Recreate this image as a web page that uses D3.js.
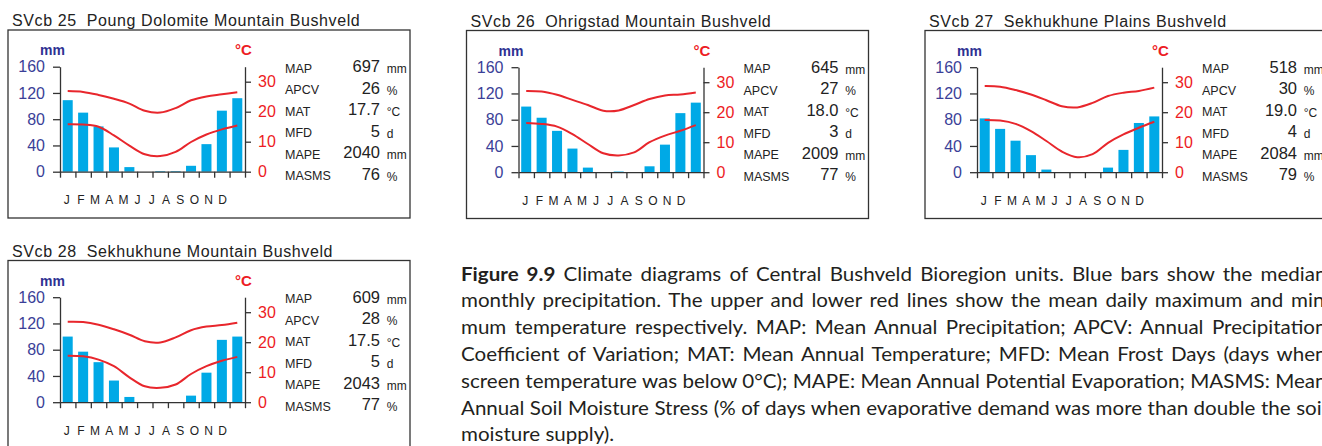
<!DOCTYPE html>
<html><head><meta charset="utf-8">
<script src="https://cdn.jsdelivr.net/npm/d3@7"></script>
<style>
html,body{margin:0;padding:0;background:#fff;overflow:hidden;}
svg{display:block;}
</style></head><body>
<svg id="chart" width="1322" height="446"></svg>
<script>
// ---------- DATA ----------
const months = ["J","F","M","A","M","J","J","A","S","O","N","D"];
const leftTicks = [0, 40, 80, 120, 160];
const rightTicks = [0, 10, 20, 30];
const statLabels = ["MAP","APCV","MAT","MFD","MAPE","MASMS"];
const statUnits = ["mm","%","°C","d","mm","%"];

const titles = [
  "SVcb 25  Poung Dolomite Mountain Bushveld",
  "SVcb 26  Ohrigstad Mountain Bushveld",
  "SVcb 27  Sekhukhune Plains Bushveld",
  "SVcb 28  Sekhukhune Mountain Bushveld"
];

const precip25 = [109, 90, 69, 37, 7, 0, 1, 1, 9, 42, 93, 112];
const precip26 = [100, 83, 63, 36, 7, 0, 1, 0, 9, 42, 90, 106];
const precip27 = [82, 66, 48, 26, 4, 0, 0, 0, 7, 34, 75, 85];
const precip28 = [100, 77, 61, 33, 8, 0, 0, 0, 10, 45, 95, 100];

const tmax25 = [26.9, 26.6, 25.6, 24.3, 22.7, 20.3, 19.7, 21.2, 23.8, 25.1, 25.8, 26.5];
const tmin25 = [15.8, 15.7, 15.0, 12.1, 8.7, 5.8, 5.2, 6.6, 9.9, 12.4, 14.1, 15.4];
const tmax26 = [27.1, 26.9, 25.8, 24.1, 22.4, 20.5, 20.6, 22.4, 24.4, 25.6, 25.9, 26.6];
const tmin26 = [16.4, 16.1, 15.2, 12.7, 9.4, 6.3, 5.6, 6.6, 10.0, 12.2, 13.8, 15.7];
const tmax27 = [28.7, 28.5, 27.4, 25.9, 24.0, 22.0, 21.6, 23.1, 25.4, 26.5, 27.1, 28.2];
const tmin27 = [17.4, 17.2, 16.1, 13.7, 10.4, 6.9, 5.0, 6.0, 9.8, 12.6, 14.8, 16.8];
const tmax28 = [26.8, 26.7, 25.8, 24.3, 22.5, 20.3, 19.9, 21.6, 24.0, 25.2, 25.7, 26.5];
const tmin28 = [15.5, 15.3, 14.2, 12.0, 8.3, 5.3, 4.8, 5.9, 9.4, 12.0, 13.8, 15.1];

const stats25 = ["697","26","17.7","5","2040","76"];
const stats26 = ["645","27","18.0","3","2009","77"];
const stats27 = ["518","30","19.0","4","2084","79"];
const stats28 = ["609","28","17.5","5","2043","77"];

const captionBold = "Figure 9.9";
const captionLines = [
  " Climate diagrams of Central Bushveld Bioregion units. Blue bars show the median",
  "monthly precipitation. The upper and lower red lines show the mean daily maximum and mini-",
  "mum temperature respectively. MAP: Mean Annual Precipitation; APCV: Annual Precipitation",
  "Coefficient of Variation; MAT: Mean Annual Temperature; MFD: Mean Frost Days (days when",
  "screen temperature was below 0°C); MAPE: Mean Annual Potential Evaporation; MASMS: Mean",
  "Annual Soil Moisture Stress (% of days when evaporative demand was more than double the soil",
  "moisture supply)."
];

// ---------- DRAW ----------
const svg = d3.select("#chart");
svg.append("rect").attr("width",1322).attr("height",446).attr("fill","#fff");
const FONT = "'Liberation Sans', Arial, Helvetica, sans-serif";
const BLUE_TXT = "#3b3f98", BLUE_T = "#2e3192", RED = "#ed1c24", LINE_RED = "#e8262c", BAR = "#00a9e6", AX = "#333";

function drawPanel(bx, by, title, precip, tmax, tmin, stats) {
  const g = svg.append("g").style("font-family", FONT);
  g.append("rect").attr("x",bx).attr("y",by).attr("width",402).attr("height",188)
    .attr("fill","none").attr("stroke",AX).attr("stroke-width",1.3);
  g.append("text").attr("x",bx+4).attr("y",by-4).attr("font-size",16)
    .attr("letter-spacing",0.6).attr("fill","#222").style("white-space","pre").text(title);

  const x0 = bx+52, x1 = bx+237, yTop = by+36.7, yZero = by+141.7;
  const xb = d3.scaleBand().domain(d3.range(12)).range([x0,x1]).paddingInner(0.35).paddingOuter(0.175);
  const xl = d3.scaleLinear().domain([0,12]).range([x0,x1]);
  const xp = d3.scalePoint().domain(d3.range(12)).range([x0+6.7, x0+162.7]);
  const yP = d3.scaleLinear().domain([0,160]).range([yZero,yTop]);
  const yT = d3.scaleLinear().domain([0,35]).range([yZero,yTop]);

  g.append("g").selectAll("rect").data(precip).join("rect")
    .attr("x",(d,i)=>xb(i)).attr("width",xb.bandwidth())
    .attr("y",d=>yP(d)).attr("height",d=>yZero-yP(d)).attr("fill",BAR);

  const la = g.append("g").attr("transform",`translate(${x0},0)`)
    .call(d3.axisLeft(yP).tickValues(leftTicks).tickSize(7).tickSizeOuter(0).tickPadding(8));
  la.attr("color",AX).attr("font-family",FONT).attr("font-size",16);
  la.selectAll("path,line").attr("stroke-width",1.3);
  la.selectAll("text").attr("fill",BLUE_TXT);

  const ra = g.append("g").attr("transform",`translate(${x1},0)`)
    .call(d3.axisRight(yT).tickValues(rightTicks).tickSize(6).tickSizeOuter(0).tickPadding(7));
  ra.attr("color",AX).attr("font-family",FONT).attr("font-size",16);
  ra.selectAll("path,line").attr("stroke-width",1.3);
  ra.selectAll("text").attr("fill",RED);

  const ba = g.append("g").attr("transform",`translate(0,${yZero})`)
    .call(d3.axisBottom(xl).tickValues(d3.range(13)).tickFormat("").tickSize(6).tickSizeOuter(0));
  ba.attr("color",AX);
  ba.selectAll("path,line").attr("stroke-width",1.3);

  const line = d3.line().x((d,i)=>xb(i)+xb.bandwidth()/2).y(d=>yT(d)).curve(d3.curveCatmullRom.alpha(0.5));
  g.append("path").datum(tmax).attr("d",line).attr("fill","none").attr("stroke",LINE_RED).attr("stroke-width",2);
  g.append("path").datum(tmin).attr("d",line).attr("fill","none").attr("stroke",LINE_RED).attr("stroke-width",2);

  g.append("text").attr("x",bx+32).attr("y",by+25).attr("font-size",14).attr("font-weight","bold")
    .attr("fill",BLUE_T).text("mm");
  g.append("text").attr("x",bx+227).attr("y",by+25).attr("font-size",15).attr("font-weight","bold")
    .attr("fill",RED).text("°C");

  g.append("g").selectAll("text").data(months).join("text")
    .attr("x",(d,i)=>xp(i)).attr("y",by+174.3).attr("text-anchor","middle")
    .attr("font-size",12).attr("fill","#222").text(d=>d);

  const sg = g.append("g");
  statLabels.forEach((lab,i)=>{
    const y = by+42.7+i*21.5;
    sg.append("text").attr("x",bx+277).attr("y",y).attr("font-size",12.5).attr("fill","#222").text(lab);
    sg.append("text").attr("x",bx+372).attr("y",y-0.5).attr("font-size",16.5).attr("text-anchor","end").attr("fill","#222").text(stats[i]);
    sg.append("text").attr("x",bx+378.7).attr("y",y+0.5).attr("font-size",12).attr("fill","#222").text(statUnits[i]);
  });
}

drawPanel(8, 30, titles[0], precip25, tmax25, tmin25, stats25);
drawPanel(466.5, 30.5, titles[1], precip26, tmax26, tmin26, stats26);
drawPanel(925, 30.5, titles[2], precip27, tmax27, tmin27, stats27);
drawPanel(8, 260.5, titles[3], precip28, tmax28, tmin28, stats28);

// caption
const cap = svg.append("g").attr("fill","#231f20")
  .style("font-family","Lato, 'Open Sans', sans-serif").attr("font-size",19.5);
const capText = cap.selectAll("text").data(captionLines).join("text")
  .attr("x",0).attr("y",(d,i)=>280.7+i*26.77).style("white-space","pre");
capText.each(function(d,i){
  const t = d3.select(this);
  if (i===0) {
    t.append("tspan").attr("font-weight","bold").text(captionBold);
    t.append("tspan").text(d);
  } else t.text(d);
});
const w7 = capText.nodes()[6].getComputedTextLength();
const sx = 153.3 / w7;
cap.attr("transform",`translate(461,0) scale(${sx},1)`);
capText.each(function(d,i){
  if (i===6) return;
  const full = (i===0 ? captionBold + d : d);
  const nat = this.getComputedTextLength();
  const spaces = (full.match(/ /g)||[]).length;
  const target = (i===1 ? 876 : 865.5);
  const ws = (target/sx - nat)/spaces;
  d3.select(this).attr("word-spacing", ws);
});
</script>
</body></html>
